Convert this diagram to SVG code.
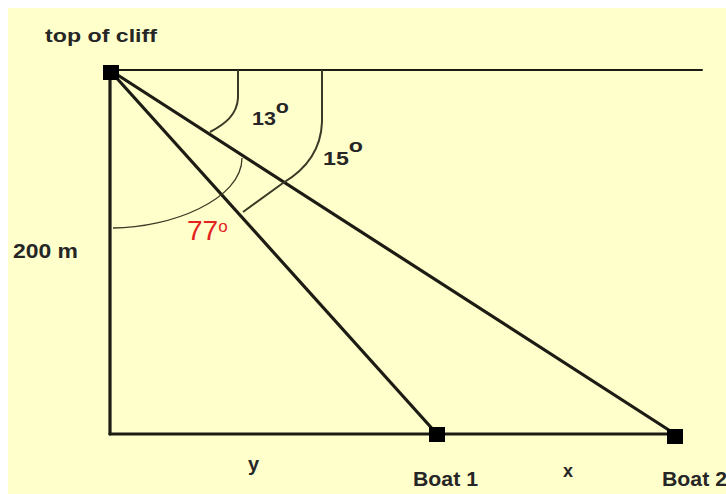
<svg xmlns="http://www.w3.org/2000/svg" width="726" height="494" viewBox="0 0 726 494">
<style>
.lbl{font-family:"Liberation Sans",Arial,sans-serif;font-weight:bold;fill:#262626}
.ln{stroke:#1c1c14;stroke-width:3.2;fill:none;stroke-linecap:round}
.arc{stroke:#3a3a26;stroke-width:2;fill:none}
.pt{fill:#000}
</style>
<rect x="0" y="0" width="726" height="494" fill="#ffffff"/>
<rect x="8" y="8" width="718" height="486" fill="#ffffcc"/>
<g id="connectors">
<line class="ln" x1="119" y1="70" x2="702" y2="70" style="stroke-width:2"/>
<line class="ln" x1="110" y1="72" x2="110" y2="434"/>
<line class="ln" x1="110" y1="434" x2="675" y2="434"/>
<line class="ln" x1="113" y1="74" x2="437" y2="434"/>
<line class="ln" x1="113" y1="72" x2="675" y2="434"/>
</g>
<g id="angles">
<path class="arc" d="M238,70 L238,98 C237,115 225,124 210,132"/>
<path class="arc" d="M322,70 L322,122 C321,150 305,170 283,183 L243,212"/>
<path class="arc" style="stroke-width:1.3" d="M242,158 C242,200 170,228 113,228"/>
</g>
<g id="cliff">
<rect class="pt" x="103" y="65" width="16" height="15"/>
<text class="lbl" x="45" y="42" font-size="18" textLength="112" lengthAdjust="spacingAndGlyphs">top of cliff</text>
</g>
<g id="boat1">
<rect class="pt" x="429" y="427" width="16" height="15"/>
<text class="lbl" x="413" y="486" font-size="20" textLength="65" lengthAdjust="spacingAndGlyphs">Boat 1</text>
</g>
<g id="boat2">
<rect class="pt" x="667" y="429" width="16" height="15"/>
<text class="lbl" x="662" y="486" font-size="20" textLength="65" lengthAdjust="spacingAndGlyphs">Boat 2</text>
</g>
<g id="labels">
<text class="lbl" x="13" y="258" font-size="20" textLength="65" lengthAdjust="spacingAndGlyphs">200 m</text>
<text class="lbl" x="248" y="471" font-size="20">y</text>
<text class="lbl" x="563" y="477" font-size="18">x</text>
<text class="lbl" x="252" y="125" font-size="19" textLength="37" lengthAdjust="spacingAndGlyphs">13<tspan font-size="19" dy="-12">o</tspan></text>
<text class="lbl" x="323" y="165" font-size="19" textLength="40" lengthAdjust="spacingAndGlyphs">15<tspan font-size="19" dy="-13">o</tspan></text>
<text x="187" y="240" font-family="Liberation Sans,Arial,sans-serif" font-size="28" fill="#e2231f">77<tspan font-size="17" dy="-8">o</tspan></text>
</g>
</svg>
